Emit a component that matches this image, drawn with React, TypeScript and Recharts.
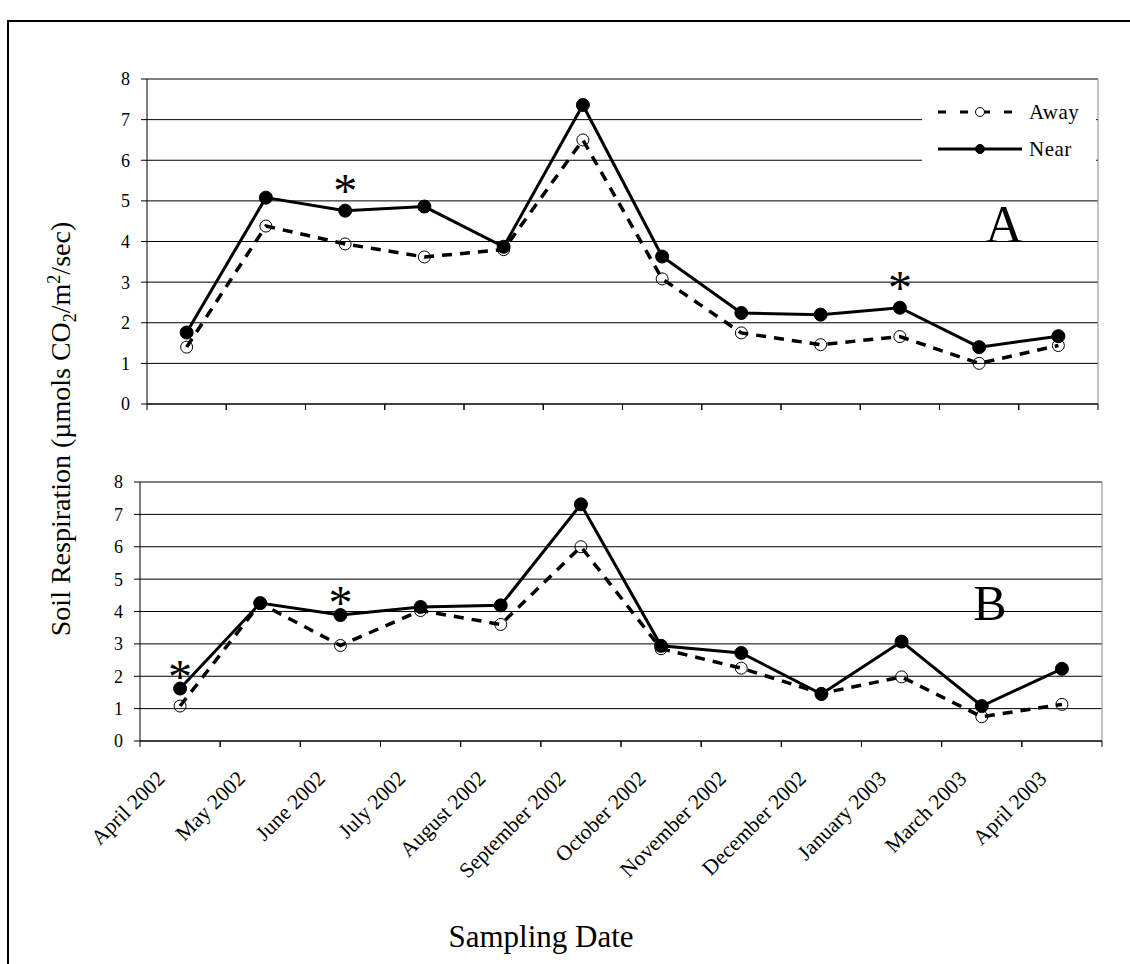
import React from 'react'
import { CartesianGrid, Legend, Line, LineChart, XAxis, YAxis } from 'recharts'

const months = [
  'April 2002',
  'May 2002',
  'June 2002',
  'July 2002',
  'August 2002',
  'September 2002',
  'October 2002',
  'November 2002',
  'December 2002',
  'January 2003',
  'March 2003',
  'April 2003',
]

// panel A
const awayA = [1.4, 4.38, 3.94, 3.62, 3.8, 6.5, 3.08, 1.75, 1.46, 1.66, 1.0, 1.44]
const nearA = [1.76, 5.08, 4.76, 4.86, 3.87, 7.36, 3.63, 2.24, 2.2, 2.37, 1.4, 1.67]
const starsA = ['June 2002', 'January 2003']

// panel B
const awayB = [1.08, 4.25, 2.95, 4.03, 3.6, 6.0, 2.85, 2.25, 1.47, 1.98, 0.75, 1.13]
const nearB = [1.62, 4.26, 3.89, 4.14, 4.19, 7.31, 2.94, 2.72, 1.45, 3.07, 1.08, 2.23]
const starsB = ['April 2002', 'June 2002']

const yTicks = [0, 1, 2, 3, 4, 5, 6, 7, 8]

const FONT = '"Liberation Serif", "Times New Roman", serif'
const CHART_W = 1130
const Y_AXIS_W = 60

const buildRows = (away: number[], near: number[], stars: string[]) =>
  months.map((month, i) => ({ month, Away: away[i], Near: near[i], star: stars.includes(month) }))

const rowsA = buildRows(awayA, nearA, starsA)
const rowsB = buildRows(awayB, nearB, starsB)

function MonthTick(props: any) {
  const { x, y, payload, band, showLabel } = props
  const half = band / 2
  const lx = x - 14
  const ly = y + 39
  return (
    <g>
      <line x1={x - half} x2={x - half} y1={y} y2={y + 6} stroke="#000" />
      <line x1={x + half} x2={x + half} y1={y} y2={y + 6} stroke="#000" />
      {showLabel && (
        <text
          x={lx}
          y={ly}
          transform={`rotate(-45 ${lx} ${ly})`}
          textAnchor="end"
          fontSize={21.5}
          fill="#000"
        >
          {payload.value}
        </text>
      )}
    </g>
  )
}

function NearDot(props: any) {
  const { cx, cy, payload, lift } = props
  if (cx == null || cy == null) return null
  return (
    <g>
      <circle cx={cx} cy={cy} r={6.5} fill="#000" stroke="#000" />
      {payload.star && (
        <text x={cx} y={cy - lift} textAnchor="middle" fontSize={48} fill="#000">
          *
        </text>
      )}
    </g>
  )
}

const legendLook: Record<string, { dash?: string; fill: string }> = {
  Away: { dash: '8 14', fill: '#fff' },
  Near: { fill: '#000' },
}

function LegendBox(props: any) {
  const items = (props.payload || []).slice().sort((a: any, b: any) => (a.value > b.value ? 1 : -1))
  return (
    <svg width={174} height={90} style={{ background: '#fff', display: 'block' }}>
      {items.map((item: any, i: number) => {
        const look = legendLook[item.value] || { fill: '#000' }
        const cy = 24 + i * 37
        return (
          <g key={item.value}>
            <line x1={16} x2={100} y1={cy} y2={cy} stroke="#000" strokeWidth={3} strokeDasharray={look.dash} />
            <circle cx={58} cy={cy} r={4.5} fill={look.fill} stroke="#000" strokeWidth={1} />
            <text x={107} y={cy + 7} fontSize={21} fill="#000" fontFamily={FONT} letterSpacing={0.5}>
              {item.value}
            </text>
          </g>
        )
      })}
    </svg>
  )
}

function Panel(props: any) {
  const { rows, height, margin, showLabels, xHeight, lift, legend } = props
  const band = (CHART_W - margin.left - Y_AXIS_W - margin.right) / months.length
  return (
    <LineChart width={CHART_W} height={height} data={rows} margin={margin}>
      <CartesianGrid horizontal vertical={false} stroke="#000" strokeWidth={1} />
      <CartesianGrid
        horizontal={false}
        vertical
        stroke="#888"
        verticalCoordinatesGenerator={({ offset }: any) => [offset.left + offset.width]}
      />
      <XAxis
        dataKey="month"
        interval={0}
        padding={{ left: band / 2, right: band / 2 }}
        tickSize={0}
        tickMargin={0}
        tickLine={false}
        axisLine={{ stroke: '#000', strokeWidth: 1 }}
        height={xHeight}
        tick={<MonthTick band={band} showLabel={showLabels} />}
      />
      <YAxis
        type="number"
        domain={[0, 8]}
        ticks={yTicks}
        interval={0}
        width={Y_AXIS_W}
        tickSize={6}
        tickMargin={11}
        axisLine={{ stroke: '#000' }}
        tickLine={{ stroke: '#000' }}
        tick={{ fontSize: 18, fill: '#000', fontFamily: FONT }}
      />
      {legend && (
        <Legend
          layout="vertical"
          align="center"
          verticalAlign="middle"
          content={<LegendBox />}
          wrapperStyle={{ left: 922, top: 48, width: 174, height: 90 }}
        />
      )}
      <Line
        type="linear"
        dataKey="Away"
        stroke="#000"
        strokeWidth={3.5}
        strokeDasharray="10 8"
        dot={{ r: 6, fill: 'none', stroke: '#000', strokeWidth: 1, strokeDasharray: 'none' }}
        isAnimationActive={false}
      />
      <Line
        type="linear"
        dataKey="Near"
        stroke="#000"
        strokeWidth={3}
        dot={(p: any) => <NearDot {...p} key={p.index} lift={lift} />}
        isAnimationActive={false}
      />
    </LineChart>
  )
}

export default function App() {
  return (
    <div
      style={{
        position: 'absolute',
        left: 0,
        top: 0,
        width: 1130,
        height: 964,
        background: '#fff',
        fontFamily: FONT,
        overflow: 'hidden',
      }}
    >
      <div
        style={{
          position: 'absolute',
          left: 7,
          top: 20,
          width: 1300,
          height: 1100,
          border: '2px solid #000',
          boxSizing: 'border-box',
        }}
      />
      <div style={{ position: 'absolute', left: 0, top: 40 }}>
        <Panel
          rows={rowsA}
          height={400}
          margin={{ top: 39, right: 32, bottom: 28, left: 87 }}
          xHeight={8}
          showLabels={false}
          lift={4}
          legend
        />
      </div>
      <div style={{ position: 'absolute', left: 0, top: 440 }}>
        <Panel
          rows={rowsB}
          height={480}
          margin={{ top: 42, right: 28, bottom: 49, left: 80 }}
          xHeight={130}
          showLabels
          lift={-4}
        />
      </div>
      <svg
        width={1130}
        height={964}
        style={{ position: 'absolute', left: 0, top: 0, pointerEvents: 'none' }}
        fontFamily={FONT}
      >
        <text transform="translate(70 429) rotate(-90)" textAnchor="middle" fontSize={28} fill="#000">
          Soil Respiration (µmols CO
          <tspan fontSize={18} dy={6}>
            2
          </tspan>
          <tspan dy={-6}>/m</tspan>
          <tspan fontSize={18} dy={-10}>
            2
          </tspan>
          <tspan dy={10}>/sec)</tspan>
        </text>
        <text x={541} y={947} textAnchor="middle" fontSize={31} fill="#000">
          Sampling Date
        </text>
        <text x={1004} y={242} textAnchor="middle" fontSize={52} fill="#000">
          A
        </text>
        <text x={990} y={620} textAnchor="middle" fontSize={50} fill="#000">
          B
        </text>
      </svg>
    </div>
  )
}
